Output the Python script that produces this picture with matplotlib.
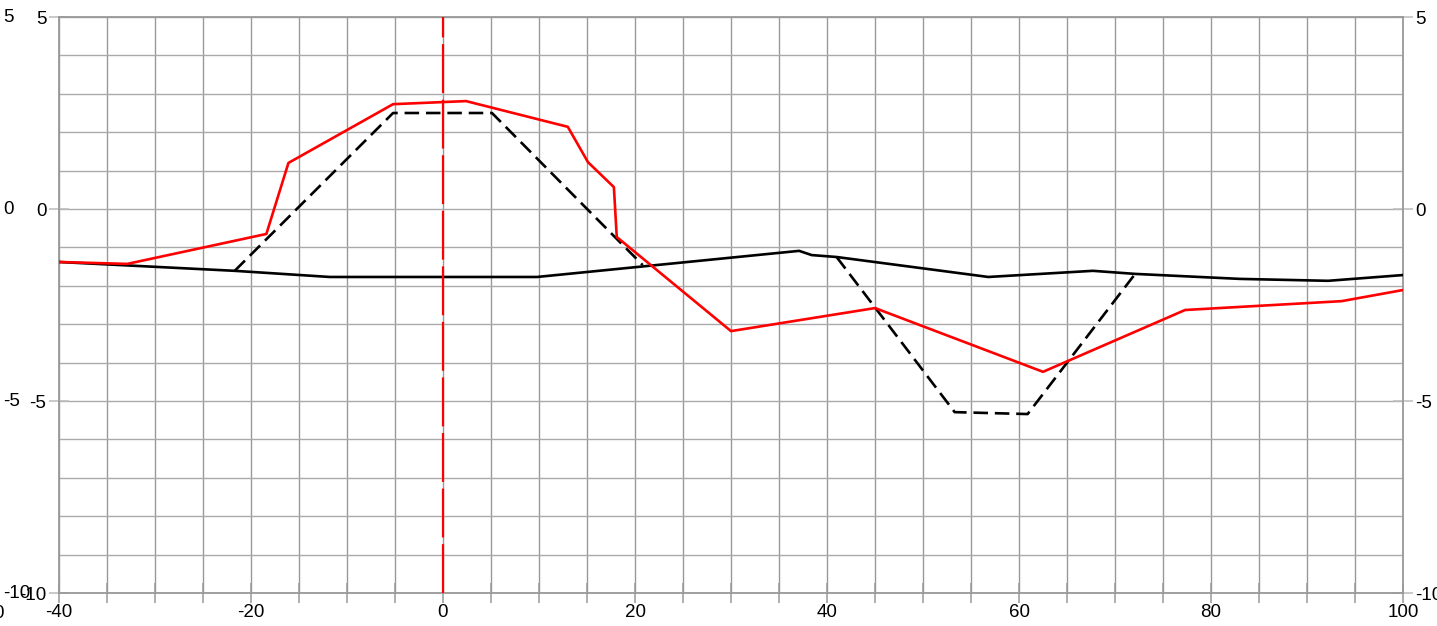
import matplotlib
matplotlib.use("Agg")
import matplotlib.pyplot as plt
from matplotlib.ticker import MultipleLocator, FuncFormatter

plt.rcParams['font.family'] = ['Liberation Sans', 'DejaVu Sans']

# existing ground line
ground_x = [-40, -21.7, -11.8, 9.8, 37.1, 38.4, 41.0, 56.8, 67.7, 72.1, 83.0, 92.2, 100]
ground_y = [-1.38, -1.61, -1.77, -1.77, -1.09, -1.20, -1.25, -1.77, -1.61, -1.69, -1.82, -1.87, -1.72]

# design (dashed) sections
fill_x = [-21.7, -5.2, 5.1, 20.8]
fill_y = [-1.61, 2.50, 2.50, -1.46]
cut_x = [41.0, 53.3, 60.9, 72.1]
cut_y = [-1.25, -5.29, -5.34, -1.69]

# red profile
red_x = [-40, -32.9, -18.4, -16.1, -5.2, 2.4, 13.0, 15.1, 17.8, 18.1, 30.0, 45.0, 62.5, 77.3, 93.6, 100]
red_y = [-1.38, -1.43, -0.65, 1.20, 2.73, 2.81, 2.14, 1.22, 0.57, -0.73, -3.18, -2.58, -4.24, -2.63, -2.40, -2.11]

centre_x = 0
xmin, xmax = -40, 100
ymin, ymax = -10, 5

W, H = 1437, 626
fig = plt.figure(figsize=(W / 100, H / 100), dpi=100)
ax = fig.add_axes([59 / W, 33 / H, (1403 - 59) / W, (593 - 17) / H])

ax.set_xlim(xmin, xmax)
ax.set_ylim(ymin, ymax)

ax.xaxis.set_major_locator(MultipleLocator(20))
ax.xaxis.set_minor_locator(MultipleLocator(5))
ax.yaxis.set_major_locator(MultipleLocator(5))
ax.yaxis.set_minor_locator(MultipleLocator(1))
ax.yaxis.set_major_formatter(FuncFormatter(lambda v, p: f"{v:.0f}"))
ax.xaxis.set_major_formatter(FuncFormatter(lambda v, p: f"{v:.0f}"))

ax.grid(True, which='both', axis='x', color='#999999', lw=1.0)
ax.grid(True, which='both', axis='y', color='#aaaaaa', lw=1.0)
ax.set_axisbelow(True)

for s in ax.spines.values():
    s.set_color('#999999')
    s.set_linewidth(1.3)

ax.tick_params(axis='x', which='both', direction='inout', length=14, color='#999999',
               width=1.1, labelsize=13.5, pad=1)
ax.tick_params(axis='y', which='major', direction='inout', length=14, color='#bbbbbb',
               width=1.1, labelsize=13.5, pad=2, right=True, labelright=True)
ax.tick_params(axis='y', which='minor', length=0)
ax.tick_params(top=False)

ax.plot(ground_x, ground_y, color='black', lw=1.9, zorder=3)
ax.plot(fill_x, fill_y, color='black', lw=1.9, dashes=(5.5, 2.6), zorder=3)
ax.plot(cut_x, cut_y, color='black', lw=1.9, dashes=(5.5, 2.6), zorder=3)
ax.plot(red_x, red_y, color='red', lw=1.9, zorder=4)
ax.axvline(centre_x, color='red', lw=1.6, dashes=(22, 3), zorder=4)

# second set of labels left of the axis
for v in [5, 0, -5, -10]:
    py = 17 + (ymax - v) / (ymax - ymin) * (593 - 17)
    fig.text(3 / W, 1 - py / H, f"{v}", fontsize=13.5, ha='left', va='center')
fig.text(4 / W, 1 - 614 / H, "0", fontsize=13.5, ha='right', va='center')

fig.savefig("out.png", dpi=100)
